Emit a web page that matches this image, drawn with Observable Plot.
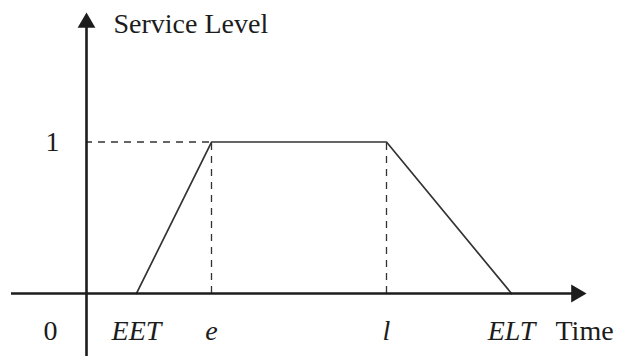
<!DOCTYPE html>
<html>
<head>
<meta charset="utf-8">
<script src="https://cdn.jsdelivr.net/npm/d3@7"></script>
<script src="https://cdn.jsdelivr.net/npm/@observablehq/plot@0.6"></script>
<style>
  html, body { margin: 0; padding: 0; background: #fff; }
  svg { display: block; }
</style>
</head>
<body>
<div id="chart"></div>
<script>
// ---- data ----
const timeLabels = ["EET", "e", "l", "ELT"];
const timeValues = [2, 5, 12, 17];
const serviceLevels = [0, 1, 1, 0];
const yTickLabels = ["0", "1"];
const yTickValues = [0, 1];
const xAxisTitle = "Time";
const yAxisTitle = "Service Level";
const xExtent = [-3, 20];
const yExtent = [-0.416, 1.855];

// ---- derived tables ----
const curve = timeValues.map((t, i) => ({ t, s: serviceLevels[i] }));
const xLabels = timeValues.map((t, i) => ({ t, label: timeLabels[i] }));
const yLabels = yTickValues.map((v, i) => ({ v, label: yTickLabels[i] }));
const originLabel = yLabels.filter(d => d.v === 0);
const upperLabels = yLabels.filter(d => d.v !== 0);
const plateau = curve.filter(d => d.s === 1);

const ink = "#1c1c1c";
const lineInk = "#333";
const font = "'Liberation Serif', 'Times New Roman', serif";

const chart = Plot.plot({
  width: 618,
  height: 356,
  marginTop: 12,
  marginBottom: 0,
  marginLeft: 11,
  marginRight: 32,
  x: { domain: xExtent, axis: null },
  y: { domain: yExtent, axis: null },
  style: { fontFamily: font, background: "#fff" },
  marks: [
    // dashed guides
    Plot.ruleY([1], { x1: 0, x2: plateau[0].t, stroke: lineInk, strokeWidth: 1.3, strokeDasharray: "7,6", strokeDashoffset: 1 }),
    Plot.ruleX(plateau, { x: "t", y1: 0, y2: "s", stroke: lineInk, strokeWidth: 1.3, strokeDasharray: "7,6" }),
    // service level curve
    Plot.line(curve, { x: "t", y: "s", stroke: lineInk, strokeWidth: 1.7 }),
    // axes
    Plot.ruleY([0], { x1: xExtent[0], x2: xExtent[1] - 0.4, stroke: ink, strokeWidth: 2.6 }),
    Plot.ruleX([0], { y1: yExtent[0], y2: yExtent[1] - 0.05, stroke: ink, strokeWidth: 2.6 }),
    // arrowheads
    Plot.dot([{ x: xExtent[1], y: 0 }], { x: "x", y: "y", symbol: "triangle", r: 6.6, rotate: 90, dx: -10.2, fill: ink, stroke: "none" }),
    Plot.dot([{ x: 0, y: yExtent[1] }], { x: "x", y: "y", symbol: "triangle", r: 6.6, dy: 10.2, fill: ink, stroke: "none" }),
    // x labels
    Plot.text(xLabels, { x: "t", y: 0, text: "label", dy: 38, fontSize: 28, fontStyle: "italic", fill: ink, textAnchor: "middle" }),
    Plot.text([xAxisTitle], { x: xExtent[1], y: 0, text: d => d, dx: -31, dy: 38, fontSize: 28, fill: ink, textAnchor: "start" }),
    // y labels
    Plot.text(originLabel, { x: 0, y: "v", text: "label", dx: -36, dy: 38, fontSize: 28, fill: ink, textAnchor: "middle" }),
    Plot.text(upperLabels, { x: 0, y: "v", text: "label", dx: -34, fontSize: 28, fill: ink, textAnchor: "middle" }),
    Plot.text([yAxisTitle], { x: 0, y: yExtent[1], text: d => d, dx: 27, dy: 12, fontSize: 28, fill: ink, textAnchor: "start" })
  ]
});
document.getElementById("chart").appendChild(chart);
</script>
</body>
</html>
